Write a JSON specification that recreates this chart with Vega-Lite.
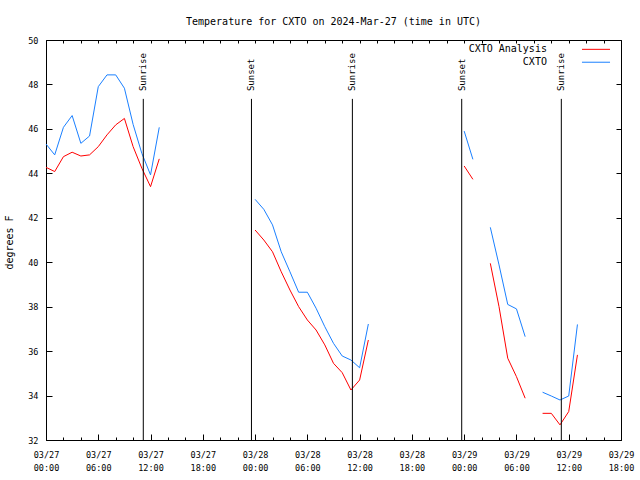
{
  "$schema": "https://vega.github.io/schema/vega-lite/v6.json",
  "width": 575,
  "height": 400,
  "autosize": {"type": "none"},
  "padding": {"left": 46, "top": 40, "right": 19, "bottom": 40},
  "background": "white",
  "title": {"text": "Temperature for CXTO on 2024-Mar-27 (time in UTC)", "font": "DejaVu Sans Mono", "fontSize": 10, "fontWeight": "normal", "color": "black", "anchor": "middle", "frame": "group", "baseline": "alphabetic", "offset": 1},
  "config": {
    "view": {"stroke": "black", "strokeWidth": 1},
    "axis": {"grid": false, "domain": false, "tickColor": "black", "tickWidth": 1, "labelColor": "black", "labelFont": "DejaVu Sans Mono", "labelFontSize": 8.5, "titleFont": "DejaVu Sans Mono", "titleFontWeight": "normal", "titleColor": "black"}
  },
  "datasets": {
    "obs": [
      {"series": "CXTO Analysis", "time": "2024-03-27T00:00:00Z", "temp": 44.27},
      {"series": "CXTO Analysis", "time": "2024-03-27T01:00:00Z", "temp": 44.08},
      {"series": "CXTO Analysis", "time": "2024-03-27T02:00:00Z", "temp": 44.75},
      {"series": "CXTO Analysis", "time": "2024-03-27T03:00:00Z", "temp": 44.95},
      {"series": "CXTO Analysis", "time": "2024-03-27T04:00:00Z", "temp": 44.78},
      {"series": "CXTO Analysis", "time": "2024-03-27T05:00:00Z", "temp": 44.83},
      {"series": "CXTO Analysis", "time": "2024-03-27T06:00:00Z", "temp": 45.2},
      {"series": "CXTO Analysis", "time": "2024-03-27T07:00:00Z", "temp": 45.73},
      {"series": "CXTO Analysis", "time": "2024-03-27T08:00:00Z", "temp": 46.18},
      {"series": "CXTO Analysis", "time": "2024-03-27T09:00:00Z", "temp": 46.47},
      {"series": "CXTO Analysis", "time": "2024-03-27T10:00:00Z", "temp": 45.2},
      {"series": "CXTO Analysis", "time": "2024-03-27T11:00:00Z", "temp": 44.23},
      {"series": "CXTO Analysis", "time": "2024-03-27T12:00:00Z", "temp": 43.4},
      {"series": "CXTO Analysis", "time": "2024-03-27T13:00:00Z", "temp": 44.65},
      {"series": "CXTO Analysis", "time": "2024-03-27T14:00:00Z", "temp": null},
      {"series": "CXTO Analysis", "time": "2024-03-28T00:00:00Z", "temp": 41.45},
      {"series": "CXTO Analysis", "time": "2024-03-28T01:00:00Z", "temp": 41.0},
      {"series": "CXTO Analysis", "time": "2024-03-28T02:00:00Z", "temp": 40.47},
      {"series": "CXTO Analysis", "time": "2024-03-28T03:00:00Z", "temp": 39.57},
      {"series": "CXTO Analysis", "time": "2024-03-28T04:00:00Z", "temp": 38.75},
      {"series": "CXTO Analysis", "time": "2024-03-28T05:00:00Z", "temp": 38.0},
      {"series": "CXTO Analysis", "time": "2024-03-28T06:00:00Z", "temp": 37.4},
      {"series": "CXTO Analysis", "time": "2024-03-28T07:00:00Z", "temp": 36.95},
      {"series": "CXTO Analysis", "time": "2024-03-28T08:00:00Z", "temp": 36.28},
      {"series": "CXTO Analysis", "time": "2024-03-28T09:00:00Z", "temp": 35.45},
      {"series": "CXTO Analysis", "time": "2024-03-28T10:00:00Z", "temp": 35.03},
      {"series": "CXTO Analysis", "time": "2024-03-28T11:00:00Z", "temp": 34.25},
      {"series": "CXTO Analysis", "time": "2024-03-28T12:00:00Z", "temp": 34.7},
      {"series": "CXTO Analysis", "time": "2024-03-28T13:00:00Z", "temp": 36.5},
      {"series": "CXTO Analysis", "time": "2024-03-28T14:00:00Z", "temp": null},
      {"series": "CXTO Analysis", "time": "2024-03-29T00:00:00Z", "temp": 44.33},
      {"series": "CXTO Analysis", "time": "2024-03-29T01:00:00Z", "temp": 43.73},
      {"series": "CXTO Analysis", "time": "2024-03-29T02:00:00Z", "temp": null},
      {"series": "CXTO Analysis", "time": "2024-03-29T03:00:00Z", "temp": 39.95},
      {"series": "CXTO Analysis", "time": "2024-03-29T04:00:00Z", "temp": 38.0},
      {"series": "CXTO Analysis", "time": "2024-03-29T05:00:00Z", "temp": 35.68},
      {"series": "CXTO Analysis", "time": "2024-03-29T06:00:00Z", "temp": 34.85},
      {"series": "CXTO Analysis", "time": "2024-03-29T07:00:00Z", "temp": 33.88},
      {"series": "CXTO Analysis", "time": "2024-03-29T08:00:00Z", "temp": null},
      {"series": "CXTO Analysis", "time": "2024-03-29T09:00:00Z", "temp": 33.2},
      {"series": "CXTO Analysis", "time": "2024-03-29T10:00:00Z", "temp": 33.2},
      {"series": "CXTO Analysis", "time": "2024-03-29T11:00:00Z", "temp": 32.68},
      {"series": "CXTO Analysis", "time": "2024-03-29T12:00:00Z", "temp": 33.28},
      {"series": "CXTO Analysis", "time": "2024-03-29T13:00:00Z", "temp": 35.83},
      {"series": "CXTO", "time": "2024-03-27T00:00:00Z", "temp": 45.32},
      {"series": "CXTO", "time": "2024-03-27T01:00:00Z", "temp": 44.83},
      {"series": "CXTO", "time": "2024-03-27T02:00:00Z", "temp": 46.07},
      {"series": "CXTO", "time": "2024-03-27T03:00:00Z", "temp": 46.6},
      {"series": "CXTO", "time": "2024-03-27T04:00:00Z", "temp": 45.35},
      {"series": "CXTO", "time": "2024-03-27T05:00:00Z", "temp": 45.68},
      {"series": "CXTO", "time": "2024-03-27T06:00:00Z", "temp": 47.9},
      {"series": "CXTO", "time": "2024-03-27T07:00:00Z", "temp": 48.43},
      {"series": "CXTO", "time": "2024-03-27T08:00:00Z", "temp": 48.43},
      {"series": "CXTO", "time": "2024-03-27T09:00:00Z", "temp": 47.83},
      {"series": "CXTO", "time": "2024-03-27T10:00:00Z", "temp": 46.2},
      {"series": "CXTO", "time": "2024-03-27T11:00:00Z", "temp": 44.9},
      {"series": "CXTO", "time": "2024-03-27T12:00:00Z", "temp": 43.93},
      {"series": "CXTO", "time": "2024-03-27T13:00:00Z", "temp": 46.07},
      {"series": "CXTO", "time": "2024-03-27T14:00:00Z", "temp": null},
      {"series": "CXTO", "time": "2024-03-28T00:00:00Z", "temp": 42.83},
      {"series": "CXTO", "time": "2024-03-28T01:00:00Z", "temp": 42.38},
      {"series": "CXTO", "time": "2024-03-28T02:00:00Z", "temp": 41.68},
      {"series": "CXTO", "time": "2024-03-28T03:00:00Z", "temp": 40.47},
      {"series": "CXTO", "time": "2024-03-28T04:00:00Z", "temp": 39.57},
      {"series": "CXTO", "time": "2024-03-28T05:00:00Z", "temp": 38.65},
      {"series": "CXTO", "time": "2024-03-28T06:00:00Z", "temp": 38.65},
      {"series": "CXTO", "time": "2024-03-28T07:00:00Z", "temp": 37.93},
      {"series": "CXTO", "time": "2024-03-28T08:00:00Z", "temp": 37.1},
      {"series": "CXTO", "time": "2024-03-28T09:00:00Z", "temp": 36.35},
      {"series": "CXTO", "time": "2024-03-28T10:00:00Z", "temp": 35.78},
      {"series": "CXTO", "time": "2024-03-28T11:00:00Z", "temp": 35.6},
      {"series": "CXTO", "time": "2024-03-28T12:00:00Z", "temp": 35.25},
      {"series": "CXTO", "time": "2024-03-28T13:00:00Z", "temp": 37.22},
      {"series": "CXTO", "time": "2024-03-28T14:00:00Z", "temp": null},
      {"series": "CXTO", "time": "2024-03-29T00:00:00Z", "temp": 45.9},
      {"series": "CXTO", "time": "2024-03-29T01:00:00Z", "temp": 44.63},
      {"series": "CXTO", "time": "2024-03-29T02:00:00Z", "temp": null},
      {"series": "CXTO", "time": "2024-03-29T03:00:00Z", "temp": 41.57},
      {"series": "CXTO", "time": "2024-03-29T04:00:00Z", "temp": 39.88},
      {"series": "CXTO", "time": "2024-03-29T05:00:00Z", "temp": 38.1},
      {"series": "CXTO", "time": "2024-03-29T06:00:00Z", "temp": 37.9},
      {"series": "CXTO", "time": "2024-03-29T07:00:00Z", "temp": 36.65},
      {"series": "CXTO", "time": "2024-03-29T08:00:00Z", "temp": null},
      {"series": "CXTO", "time": "2024-03-29T09:00:00Z", "temp": 34.15},
      {"series": "CXTO", "time": "2024-03-29T10:00:00Z", "temp": 33.98},
      {"series": "CXTO", "time": "2024-03-29T11:00:00Z", "temp": 33.8},
      {"series": "CXTO", "time": "2024-03-29T12:00:00Z", "temp": 33.98},
      {"series": "CXTO", "time": "2024-03-29T13:00:00Z", "temp": 37.2}
    ],
    "sun": [
      {"label": "Sunrise", "time": "2024-03-27T11:10:00Z"},
      {"label": "Sunset", "time": "2024-03-27T23:35:00Z"},
      {"label": "Sunrise", "time": "2024-03-28T11:10:00Z"},
      {"label": "Sunset", "time": "2024-03-28T23:43:00Z"},
      {"label": "Sunrise", "time": "2024-03-29T11:09:00Z"}
    ]
  },
  "layer": [
    {
      "data": {"name": "obs"},
      "mark": {"type": "line", "strokeWidth": 1, "interpolate": "linear"},
      "encoding": {
        "x": {"field": "time", "type": "temporal",
          "scale": {"type": "utc", "nice": false, "domain": [1711497600000, 1711735200000]},
          "axis": {"orient": "bottom",
            "values": [1711497600000, 1711519200000, 1711540800000, 1711562400000, 1711584000000, 1711605600000, 1711627200000, 1711648800000, 1711670400000, 1711692000000, 1711713600000, 1711735200000],
            "tickSize": -6, "labelPadding": 16, "labelLineHeight": 13, "labelAlign": "center", "labelFlush": false, "labelOverlap": false, "labelBound": false,
            "labelExpr": "[utcFormat(datum.value, '%m/%d'), utcFormat(datum.value, '%H:%M')]", "title": null}},
        "y": {"field": "temp", "type": "quantitative",
          "scale": {"domain": [32, 50], "nice": false, "zero": false},
          "axis": {"orient": "left", "values": [32, 34, 36, 38, 40, 42, 44, 46, 48, 50], "tickSize": -6, "labelPadding": 14, "title": "degrees F", "titleFontSize": 10, "titleAngle": 270, "titleAlign": "center", "titleBaseline": "middle", "titleX": -37, "titleY": 202}},
        "color": {"field": "series", "type": "nominal",
          "scale": {"domain": ["CXTO Analysis", "CXTO"], "range": ["#ff0000", "#1a80ff"]},
          "legend": null}
      }
    },
    {
      "data": {"name": "sun"},
      "mark": {"type": "rule", "color": "black", "strokeWidth": 1},
      "encoding": {
        "x": {"field": "time", "type": "temporal",
          "scale": {"type": "utc", "nice": false, "domain": [1711497600000, 1711735200000]},
          "axis": {"orient": "bottom", "tickSize": -3, "labels": false, "title": null,
            "values": [1711497600000, 1711504800000, 1711512000000, 1711519200000, 1711526400000, 1711533600000, 1711540800000, 1711548000000, 1711555200000, 1711562400000, 1711569600000, 1711576800000, 1711584000000, 1711591200000, 1711598400000, 1711605600000, 1711612800000, 1711620000000, 1711627200000, 1711634400000, 1711641600000, 1711648800000, 1711656000000, 1711663200000, 1711670400000, 1711677600000, 1711684800000, 1711692000000, 1711699200000, 1711706400000, 1711713600000, 1711720800000, 1711728000000, 1711735200000]}},
        "y": {"datum": 47.35, "type": "quantitative",
          "axis": {"orient": "right", "values": [32, 34, 36, 38, 40, 42, 44, 46, 48, 50], "tickSize": -5, "labels": false, "title": null}},
        "y2": {"datum": 32}
      }
    },
    {
      "data": {"name": "sun"},
      "mark": {"type": "text", "angle": 270, "align": "left", "baseline": "middle", "font": "DejaVu Sans Mono", "fontSize": 9, "color": "black"},
      "encoding": {
        "x": {"field": "time", "type": "temporal",
          "scale": {"type": "utc", "nice": false, "domain": [1711497600000, 1711735200000]},
          "axis": {"orient": "top", "tickSize": -3, "labels": false, "title": null,
            "values": [1711497600000, 1711504800000, 1711512000000, 1711519200000, 1711526400000, 1711533600000, 1711540800000, 1711548000000, 1711555200000, 1711562400000, 1711569600000, 1711576800000, 1711584000000, 1711591200000, 1711598400000, 1711605600000, 1711612800000, 1711620000000, 1711627200000, 1711634400000, 1711641600000, 1711648800000, 1711656000000, 1711663200000, 1711670400000, 1711677600000, 1711684800000, 1711692000000, 1711699200000, 1711706400000, 1711713600000, 1711720800000, 1711728000000, 1711735200000]}},
        "y": {"datum": 47.7, "type": "quantitative", "axis": null},
        "text": {"field": "label"}
      }
    },
    {
      "data": {"values": [{}]},
      "mark": {"type": "rule", "strokeWidth": 1},
      "encoding": {
        "x": {"datum": 1711719072000, "type": "temporal", "axis": null},
        "x2": {"datum": 1711730664000},
        "y": {"datum": 49.58, "type": "quantitative", "axis": null},
        "color": {"datum": "CXTO Analysis", "type": "nominal", "legend": null}
      }
    },
    {
      "data": {"values": [{}]},
      "mark": {"type": "rule", "strokeWidth": 1},
      "encoding": {
        "x": {"datum": 1711719072000, "type": "temporal", "axis": null},
        "x2": {"datum": 1711730664000},
        "y": {"datum": 49.0, "type": "quantitative", "axis": null},
        "color": {"datum": "CXTO", "type": "nominal", "legend": null}
      }
    },
    {
      "data": {"values": [{}]},
      "mark": {"type": "text", "align": "right", "baseline": "middle", "font": "DejaVu Sans Mono", "fontSize": 10, "color": "black"},
      "encoding": {
        "x": {"datum": 1711704600000, "type": "temporal", "axis": null},
        "y": {"datum": 49.58, "type": "quantitative", "axis": null},
        "text": {"value": "CXTO Analysis"}
      }
    },
    {
      "data": {"values": [{}]},
      "mark": {"type": "text", "align": "right", "baseline": "middle", "font": "DejaVu Sans Mono", "fontSize": 10, "color": "black"},
      "encoding": {
        "x": {"datum": 1711704600000, "type": "temporal", "axis": null},
        "y": {"datum": 49.0, "type": "quantitative", "axis": null},
        "text": {"value": "CXTO"}
      }
    }
  ],
  "resolve": {"axis": {"x": "independent", "y": "independent"}}
}
